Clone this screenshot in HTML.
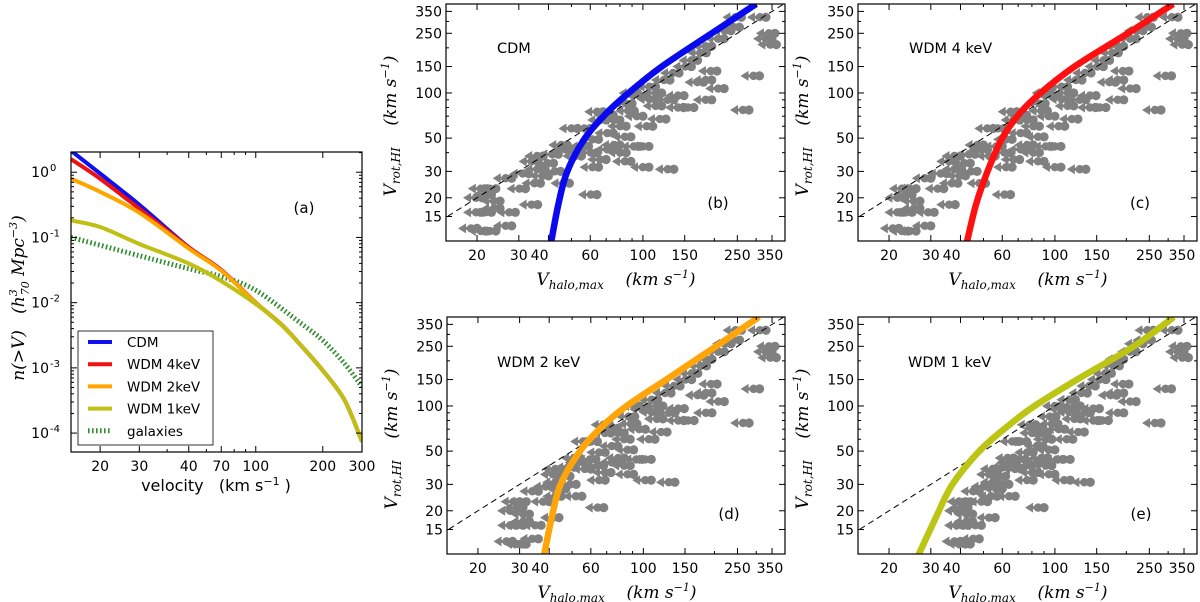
<!DOCTYPE html>
<html><head><meta charset="utf-8"><title>Velocity function and Vrot–Vhalo relations</title>
<style>
html,body{margin:0;padding:0;background:#fff;}
svg{display:block;}
text{font-family:"DejaVu Sans","Liberation Sans",sans-serif;fill:#000;}
.serif{font-family:"DejaVu Serif","Liberation Serif",serif;font-style:italic;}
</style></head>
<body>
<svg id="fig" xmlns="http://www.w3.org/2000/svg" width="1200" height="602" viewBox="0 0 1200 602"></svg>
<script>
// ---------- Panel (a) data: cumulative velocity functions ----------
const velA = [14.8, 20, 30, 50, 70, 100, 130, 160, 200, 250, 300];
const logN_cdm = [0.33, -0.02, -0.5, -1.15, -1.5, -2.0, -2.33, -2.66, -3.04, -3.49, -4.13];
const logN_wdm4 = [0.2, -0.1, -0.56, -1.15, -1.5, -2.0, -2.33, -2.66, -3.04, -3.49, -4.13];
const logN_wdm2 = [-0.1, -0.3, -0.62, -1.17, -1.51, -2.0, -2.33, -2.66, -3.04, -3.49, -4.13];
const logN_wdm1 = [-0.74, -0.84, -1.1, -1.4, -1.67, -2.02, -2.34, -2.66, -3.04, -3.49, -4.13];
const velGal = [14.8, 30, 50, 70, 100, 160, 200, 250, 300];
const logN_gal = [-1.0, -1.28, -1.48, -1.6, -1.81, -2.32, -2.58, -2.93, -3.29];
const tickLabelsA_x = ["20","30","40","70","100","200","300"];
const tickValsA_x = [20,30,50,70,100,200,300];
const tickValsA_y = [0,-1,-2,-3,-4];

// ---------- Panels (b)-(e) data ----------
const vrot = [12.5,12,12,13,16,16,17,16,20,21,23,23,19,27,23,18,25,29,31,28,35,38,34,39,45,25,21,58,58,44,40,49,54,71,66,60,51,44,44,35,32,31,76,95,91,82,67,80,80,110,122,136,150,165,185,205,230,260,275,320,107,90,77,130,230,320,122,140,118,96,90,66,42,45,40,36,32,38,42,30,210,250,75,85,70,60,100,100];
const vhalo_cdm = [20,22,24,28,21,23,25,29,21,23,24,22,25,28,32,36,37,33,38,40,36,38,42,44,48,49,64,53,60,59,64,65,75,75,80,85,89,97,106,89,106,135,92,103,113,120,125,149,164,113,130,142,160,170,185,195,220,235,255,260,220,195,280,310,350,330,195,205,180,149,135,70,75,80,85,70,65,55,50,45,365,360,68,90,100,110,120,95];
const vhalo_wdm4 = [22,24,26,30,23,25,27,31,23,25,26,24,27,30,34,38,39,35,40,42,38,40,44,46,50,51,65,55,61,60,65,66,76,76,81,86,90,97,106,90,106,135,93,103,113,120,125,149,164,113,130,142,160,170,185,195,220,235,255,260,220,195,280,310,350,330,195,205,180,149,135,71,76,81,86,71,66,56,52,47,365,360,69,91,100,110,120,96];
const vhalo_wdm2 = [28,31,32,36,29,31,33,37,29,31,32,30,33,36,40,44,45,41,45,47,44,45,49,51,54,55,68,59,64,63,68,69,78,78,83,88,91,99,108,91,108,136,94,105,115,121,126,149,164,115,131,143,160,170,185,195,220,235,255,260,220,195,280,310,350,330,195,205,180,149,136,73,78,83,88,73,69,60,56,52,365,360,72,92,102,112,121,97];
const vhalo_wdm1 = [40,42,44,48,41,43,45,49,41,43,44,42,45,48,52,56,57,53,58,60,56,58,62,64,67,68,90,70,76,75,80,81,89,89,93,97,100,108,116,100,116,141,103,113,122,128,133,154,168,122,137,148,164,173,187,195,220,235,255,260,220,195,280,310,350,330,195,205,182,154,141,85,89,93,97,85,81,72,68,64,365,360,83,101,110,119,128,106];
// abundance-matching relations (Vrot vs Vhalo)
const relVrot = [10,18,30,50,73,100,150,250,392];
const relVhalo_cdm = [41,44,48,57,70,87,120,195,300];
const relVhalo_wdm4 = [42.5,46.5,52,60,71,87,121,203,315];
const relVhalo_wdm2 = [38,41,44.7,54,67,85,125,203,308];
const relVhalo_wdm1 = [26.5,31.5,37,48,63,82,124,215,317];
const oneToOne = [10,400];
const tickLabelsX = ["20","30","40","60","100","150","250","350"];
const tickPosX = [20,30,36.7,60,100,150,250,343];
const tickValsY = [15,20,30,50,100,150,250,350];

const NS = "http://www.w3.org/2000/svg";
const svg = document.getElementById("fig");
function mk(tag, attrs, parent){
  const e = document.createElementNS(NS, tag);
  for (const k in attrs) e.setAttribute(k, attrs[k]);
  (parent||svg).appendChild(e);
  return e;
}
const L10 = Math.log10;
function smooth(pts){
  let d = "M"+pts[0][0].toFixed(1)+","+pts[0][1].toFixed(1);
  for (let i=0;i<pts.length-1;i++){
    const p0=pts[Math.max(0,i-1)], p1=pts[i], p2=pts[i+1], p3=pts[Math.min(pts.length-1,i+2)];
    const c1=[p1[0]+(p2[0]-p0[0])/6, p1[1]+(p2[1]-p0[1])/6];
    const c2=[p2[0]-(p3[0]-p1[0])/6, p2[1]-(p3[1]-p1[1])/6];
    d += "C"+c1[0].toFixed(1)+","+c1[1].toFixed(1)+" "+c2[0].toFixed(1)+","+c2[1].toFixed(1)+" "+p2[0].toFixed(1)+","+p2[1].toFixed(1);
  }
  return d;
}

// ================= Panel (a) =================
const A = {L:71,R:362,T:152,B:452,x0:14.8,x1:300,y0:-4.29,y1:0.31};
const ax = v => A.L + (L10(v)-L10(A.x0))/(L10(A.x1)-L10(A.x0))*(A.R-A.L);
const ay = ln => A.B - (ln-A.y0)/(A.y1-A.y0)*(A.B-A.T);
const gA = mk("g",{});


const cpA = mk("clipPath",{id:"clipA"},gA);
mk("rect",{x:A.L,y:A.T,width:A.R-A.L,height:A.B-A.T},cpA);
const gAc = mk("g",{"clip-path":"url(#clipA)"},gA);
function lineA(xs, ys, color, w, name, dash){
  const d = smooth(xs.map((v,i)=>[ax(v), ay(ys[i])]));
  const p = mk("path",{d:d,fill:"none",stroke:color,"stroke-width":w,"stroke-linejoin":"round"},gAc);
  if (dash) p.setAttribute("stroke-dasharray",dash);
  
  
}
lineA(velGal, logN_gal, "#2e8b2e", 5, "galaxies-line", "1.6,2.4");
lineA(velA, logN_cdm, "#1010ee", 4, "cdm-line");
lineA(velA, logN_wdm4, "#ee1111", 4, "wdm-4kev-line");
lineA(velA, logN_wdm2, "#ffa500", 4, "wdm-2kev-line");
lineA(velA, logN_wdm1, "#bfbf14", 4, "wdm-1kev-line");
mk("rect",{x:A.L,y:A.T,width:A.R-A.L,height:A.B-A.T,fill:"none",stroke:"#000","stroke-width":1.2},gA);
tickValsA_x.forEach((v,i)=>{
  const x = ax(v);
  mk("line",{x1:x,x2:x,y1:A.B,y2:A.B-6,stroke:"#000"},gA);
  mk("line",{x1:x,x2:x,y1:A.T,y2:A.T+6,stroke:"#000"},gA);
  const t = mk("text",{x:x,y:A.B+19,"font-size":14,"text-anchor":"middle"},gA);
  t.textContent = tickLabelsA_x[i];
  
  
});
[40,60,80,90].forEach(v=>{const x=ax(v);
  mk("line",{x1:x,x2:x,y1:A.B,y2:A.B-3,stroke:"#000"},gA);
  mk("line",{x1:x,x2:x,y1:A.T,y2:A.T+3,stroke:"#000"},gA);});
tickValsA_y.forEach(e=>{
  const y = ay(e);
  mk("line",{x1:A.L,x2:A.L+6,y1:y,y2:y,stroke:"#000"},gA);
  mk("line",{x1:A.R,x2:A.R-6,y1:y,y2:y,stroke:"#000"},gA);
  for (let m=2;m<10;m++){const ym=ay(e+L10(m)); if(ym>A.T){
    mk("line",{x1:A.L,x2:A.L+3,y1:ym,y2:ym,stroke:"#000"},gA);
    mk("line",{x1:A.R,x2:A.R-3,y1:ym,y2:ym,stroke:"#000"},gA);}}
  const t = mk("text",{x:A.L-22,y:y+5,"font-size":14,"text-anchor":"end"},gA);
  t.textContent = "10";
  
  
  const s = mk("text",{x:A.L-21,y:y-1,"font-size":10},gA);
  s.textContent = String(e);
});
const leg = mk("g",{},gA);


mk("rect",{x:78,y:331,width:135,height:114,fill:"#fff",stroke:"#333","stroke-width":1},leg);
const legItems = [["CDM","#1010ee",null],["WDM 4keV","#ee1111",null],["WDM 2keV","#ffa500",null],["WDM 1keV","#bfbf14",null],["galaxies","#2e8b2e","1.6,2.4"]];
legItems.forEach((it,i)=>{
  const y = 342 + i*22.2;
  const g = mk("g",{},leg);
  
  
  const l = mk("line",{x1:88,x2:112,y1:y,y2:y,stroke:it[1],"stroke-width":it[2]?5:4},g);
  if (it[2]) l.setAttribute("stroke-dasharray",it[2]);
  const t = mk("text",{x:127,y:y+5,"font-size":13.5},g);
  t.textContent = it[0];
});
{const t = mk("text",{x:304,y:213,"font-size":15,"text-anchor":"middle"},gA); t.textContent="(a)";

}
{const t = mk("text",{x:216,y:491,"font-size":16,"text-anchor":"middle"},gA);
t.innerHTML = 'velocity \u00a0 (km s<tspan dy="-6" font-size="11">\u22121</tspan><tspan dy="6"> )</tspan>';

}
{const t = mk("text",{x:0,y:0,"font-size":17,"text-anchor":"middle",transform:"translate(24,298) rotate(-90)",class:"serif"},gA);
t.innerHTML = 'n(&gt;V) \u00a0 (h<tspan dy="-7" font-size="11">3</tspan><tspan dy="12" dx="-6" font-size="11">70</tspan><tspan dy="-5"> Mpc</tspan><tspan dy="-7" font-size="11">\u22123</tspan><tspan dy="7">)</tspan>';

}

// ================= Panels (b)-(e) =================
const X0 = 14.8, X1 = 397, Y0 = 10.3, Y1 = 392;
function panel(id, L, R, T, B, vh, relVh, color, title, titleX, titleY, tag, tagX, tagY){
  const sx = v => L + (L10(v)-L10(X0))/(L10(X1)-L10(X0))*(R-L);
  const sy = v => B - (L10(v)-L10(Y0))/(L10(Y1)-L10(Y0))*(B-T);
  const g = mk("g",{});
  
  
  const cp = mk("clipPath",{id:"clip"+id},g);
  mk("rect",{x:L,y:T,width:R-L,height:B-T},cp);
  const gc = mk("g",{"clip-path":"url(#clip"+id+")"},g);
  vh.forEach((v,i)=>{
    const x = sx(v), y = sy(vrot[i]);
    const m = mk("g",{fill:"#808080"},gc);
    
    
    mk("circle",{cx:x,cy:y,r:4.6},m);
    mk("circle",{cx:x-6,cy:y,r:4.2},m);
    mk("rect",{x:x-13,y:y-1.5,width:8,height:3},m);
    mk("polygon",{points:(x-19)+","+y+" "+(x-11)+","+(y-5)+" "+(x-11)+","+(y+5)},m);
  });
  const dl = mk("line",{x1:sx(oneToOne[0]),y1:sy(oneToOne[0]),x2:sx(oneToOne[1]),y2:sy(oneToOne[1]),stroke:"#000","stroke-width":1,"stroke-dasharray":"6,4"},gc);
  
  
  const d = smooth(relVh.map((v,i)=>[sx(v), sy(relVrot[i])]));
  const c = mk("path",{d:d,fill:"none",stroke:color,"stroke-width":6.5,"stroke-linejoin":"round"},gc);
  
  
  mk("rect",{x:L,y:T,width:R-L,height:B-T,fill:"none",stroke:"#000","stroke-width":1.2},g);
  const minorV = [40,60,70,80,90,200,300];
  tickValsY.forEach(v=>{const y=sy(v);
    mk("line",{x1:L,x2:L+6,y1:y,y2:y,stroke:"#000"},g);
    mk("line",{x1:R,x2:R-6,y1:y,y2:y,stroke:"#000"},g);
    const t = mk("text",{x:L-4,y:y+5,"font-size":14,"text-anchor":"end"},g);
    t.textContent = String(v);
    
    
  });
  minorV.forEach(v=>{const y=sy(v);
    mk("line",{x1:L,x2:L+3,y1:y,y2:y,stroke:"#000"},g);
    mk("line",{x1:R,x2:R-3,y1:y,y2:y,stroke:"#000"},g);});
  [20,30,40,60,100,150,250,350].forEach(v=>{const x=sx(v);
    mk("line",{x1:x,x2:x,y1:B,y2:B-6,stroke:"#000"},g);
    mk("line",{x1:x,x2:x,y1:T,y2:T+6,stroke:"#000"},g);});
  [50,70,80,90,200,300].forEach(v=>{const x=sx(v);
    mk("line",{x1:x,x2:x,y1:B,y2:B-3,stroke:"#000"},g);
    mk("line",{x1:x,x2:x,y1:T,y2:T+3,stroke:"#000"},g);});
  tickLabelsX.forEach((lab,i)=>{
    const t = mk("text",{x:sx(tickPosX[i]),y:B+19,"font-size":14,"text-anchor":"middle"},g);
    t.textContent = lab;
    
    
  });
  const tt = mk("text",{x:titleX,y:titleY,"font-size":14.5},g);
  tt.textContent = title;
  
  
  const tg = mk("text",{x:tagX,y:tagY,"font-size":15,"text-anchor":"middle"},g);
  tg.textContent = tag;
  
  
  const xl = mk("text",{x:L+170,y:B+44,"font-size":17,"text-anchor":"middle",class:"serif"},g);
  xl.innerHTML = 'V<tspan dy="4" font-size="12">halo,max</tspan><tspan dy="-4"> \u00a0 \u00a0(km s</tspan><tspan dy="-7" font-size="11">\u22121</tspan><tspan dy="7">)</tspan>';
  
  
  const yl = mk("text",{x:0,y:0,"font-size":17,"text-anchor":"middle",class:"serif",transform:"translate("+(L-50)+","+(T+122)+") rotate(-90)"},g);
  yl.innerHTML = 'V<tspan dy="4" font-size="12">rot,HI</tspan><tspan dy="-4"> \u00a0 \u00a0(km s</tspan><tspan dy="-7" font-size="11">\u22121</tspan><tspan dy="7">)</tspan>';
  
  
}
panel("b",446,785,4,241,vhalo_cdm,relVhalo_cdm,"#0a0af0","CDM",497,53,"(b)",718,208);
panel("c",858,1197,4,241,vhalo_wdm4,relVhalo_wdm4,"#ff1010","WDM  4 keV",909,53,"(c)",1140,208);
panel("d",447,785,317,554,vhalo_wdm2,relVhalo_wdm2,"#ffa50a","WDM  2 keV",497,367,"(d)",729,519);
panel("e",858,1197,317,554,vhalo_wdm1,relVhalo_wdm1,"#bcc414","WDM  1 keV",908,367,"(e)",1141,519);
</script>
</body></html>
